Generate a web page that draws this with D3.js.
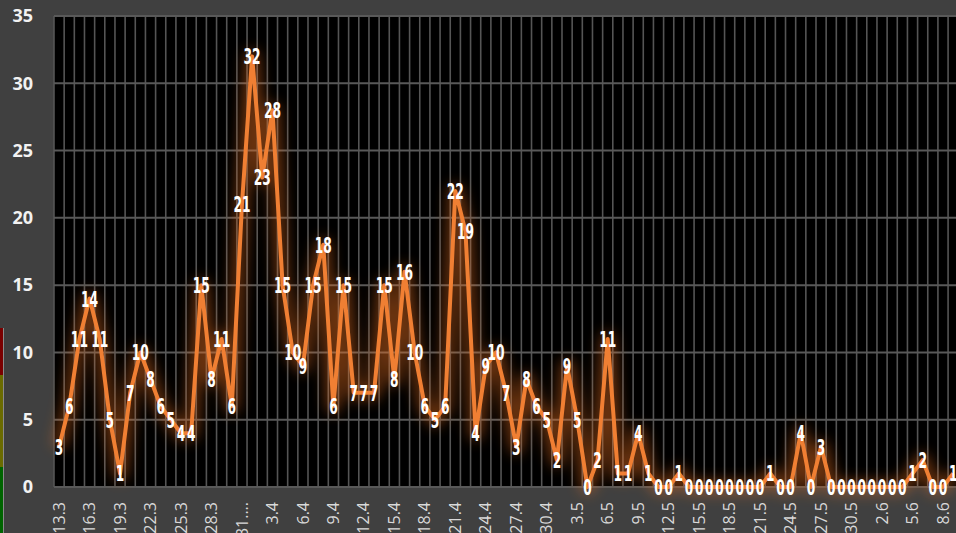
<!DOCTYPE html>
<html>
<head>
<meta charset="utf-8">
<script src="https://cdn.jsdelivr.net/npm/d3@7"></script>
<style>
    html, body { margin: 0; padding: 0; background: #404040; overflow: hidden; }
    svg { display: block; }
    .y.axis text { font-family: 'Open Sans', 'Noto Sans', sans-serif; font-weight: bold; font-size: 18px; fill: #f2f2f2; }
    .x.axis text { font-family: 'Open Sans', 'Noto Sans', sans-serif; font-size: 16px; fill: #d9d9d9; }
    .point-label { font-family: 'DejaVu Sans Condensed', 'Liberation Sans Narrow', sans-serif; font-weight: bold; font-size: 22px; fill: #ffffff; }
</style>
</head>
<body>
<div class="line-chart-container"></div>
<script>
(function(){
    // 日期 13.3 - 9.6，一天一格
    const march = ['13.3','14.3','15.3','16.3','17.3','18.3','19.3','20.3','21.3','22.3','23.3','24.3','25.3','26.3','27.3','28.3','29.3','30.3','31.3'];
    const april = ['1.4','2.4','3.4','4.4','5.4','6.4','7.4','8.4','9.4','10.4','11.4','12.4','13.4','14.4','15.4','16.4','17.4','18.4','19.4','20.4','21.4','22.4','23.4','24.4','25.4','26.4','27.4','28.4','29.4','30.4'];
    const may = ['1.5','2.5','3.5','4.5','5.5','6.5','7.5','8.5','9.5','10.5','11.5','12.5','13.5','14.5','15.5','16.5','17.5','18.5','19.5','20.5','21.5','22.5','23.5','24.5','25.5','26.5','27.5','28.5','29.5','30.5','31.5'];
    const june = ['1.6','2.6','3.6','4.6','5.6','6.6','7.6','8.6','9.6'];
    const dates = march.concat(april, may, june);

    // 每日數值
    const marchValues = [3,6,11,14,11,5,1,7,10,8,6,5,4,4,15,8,11,6,21];
    const aprilValues = [32,23,28,15,10,9,15,18,6,15,7,7,7,15,8,16,10,6,5,6,22,19,4,9,10,7,3,8,6,5];
    const mayValues = [2,9,5,0,2,11,1,1,4,1,0,0,1,0,0,0,0,0,0,0,0,1,0,0,4,0,3,0,0,0,0];
    const juneValues = [0,0,0,0,1,2,0,0,1];
    const values = marchValues.concat(aprilValues, mayValues, juneValues);

    const yTicks = [0, 5, 10, 15, 20, 25, 30, 35];
    // 31.3 在原圖被截斷
    const shortLabels = { '31.3': '31....' };

    function setupCanvas(data) {
        const svg_width = 956;
        const svg_height = 533;
        const plot = { left: 54, top: 16, bottom: 487, step: 10.16 };
        const plot_right = plot.left + plot.step * dates.length;

        const svg = d3.select('.line-chart-container').append('svg')
            .attr('width', svg_width).attr('height', svg_height);

        // 發光效果
        const defs = svg.append('defs');
        defs.append('filter').attr('id', 'glow')
            .attr('x', '-10%').attr('y', '-20%').attr('width', '120%').attr('height', '140%')
            .append('feGaussianBlur').attr('stdDeviation', 7);

        // 左側被截掉的色條
        const strip = svg.append('g').attr('class', 'side-strip');
        [['#7a0000', 328, 375], ['#6b6b00', 375, 467], ['#006400', 467, 533]].forEach(s => {
            strip.append('rect').attr('x', 0).attr('y', s[1]).attr('width', 3).attr('height', s[2] - s[1]).style('fill', s[0]);
        });
        strip.append('line').attr('x1', 3.5).attr('x2', 3.5).attr('y1', 328).attr('y2', 533)
            .style('stroke', '#8a8a8a').style('stroke-width', 1);

        //scale
        const xScale = d3.scaleBand().domain(dates).range([plot.left, plot_right]);
        const yScale = d3.scaleLinear().domain([0, 35]).range([plot.bottom, plot.top]);
        const cx = d => xScale(d) + xScale.bandwidth() / 2;

        // 黑色繪圖區
        svg.append('rect')
            .attr('x', plot.left).attr('y', plot.top)
            .attr('width', plot_right - plot.left).attr('height', plot.bottom - plot.top)
            .style('fill', '#000');

        // 格線
        const grid = svg.append('g').attr('class', 'grid');
        grid.selectAll('.v-grid').data(dates.concat([null])).enter()
            .append('line').attr('class', 'v-grid')
            .attr('x1', (d, i) => plot.left + xScale.step() * i)
            .attr('x2', (d, i) => plot.left + xScale.step() * i)
            .attr('y1', plot.top).attr('y2', plot.bottom)
            .style('stroke', '#555555').style('stroke-width', 1.6);
        grid.selectAll('.h-grid').data(yTicks).enter()
            .append('line').attr('class', 'h-grid')
            .attr('x1', plot.left).attr('x2', plot_right)
            .attr('y1', d => yScale(d)).attr('y2', d => yScale(d))
            .style('stroke', '#595959').style('stroke-width', 2);

        //line generator
        const lineGen = d3.line()
            .x(d => cx(d.date))
            .y(d => yScale(d.value));

        const chartGroup = svg.append('g').attr('class', 'line-chart');
        chartGroup.append('path')
            .attr('d', lineGen(data))
            .style('fill', 'none')
            .style('stroke', '#E87020')
            .style('stroke-width', 14)
            .style('stroke-linejoin', 'round')
            .style('opacity', 0.45)
            .attr('filter', 'url(#glow)');
        chartGroup.append('path')
            .attr('d', lineGen(data))
            .style('fill', 'none')
            .style('stroke', '#F07F33')
            .style('stroke-width', 4)
            .style('stroke-linejoin', 'round');

        //Draw X axis
        const xAxis = d3.axisBottom(xScale)
            .tickValues(dates.filter((d, i) => i % 3 === 0))
            .tickFormat(d => shortLabels[d] || d)
            .tickSize(0);
        const xg = svg.append('g').attr('class', 'x axis')
            .attr('transform', `translate(0,${plot.bottom})`)
            .call(xAxis);
        xg.select('.domain').remove();
        xg.selectAll('text')
            .attr('transform', 'rotate(-90)')
            .attr('x', -15).attr('y', 0).attr('dy', '0.35em')
            .style('text-anchor', 'end');

        //Draw Y axis
        const yAxis = d3.axisLeft(yScale).tickValues(yTicks).tickSize(0).tickPadding(21);
        const yg = svg.append('g').attr('class', 'y axis')
            .attr('transform', `translate(${plot.left},0)`)
            .call(yAxis);
        yg.select('.domain').remove();

        // 數值標籤
        chartGroup.append('g').attr('class', 'point-labels')
            .selectAll('.label').data(data).enter()
            .append('g')
            .attr('transform', d => `translate(${cx(d.date)},${yScale(d.value)})`)
            .append('text').attr('class', 'point-label')
            .attr('transform', 'scale(0.62,1)')
            .attr('dy', '0.36em')
            .style('text-anchor', 'middle')
            .text(d => d.value);
    }

    function ready() {
        const data = dates.map((d, i) => ({ date: d, value: values[i] }));
        setupCanvas(data);
    }

    ready();
})();
</script>
</body>
</html>
